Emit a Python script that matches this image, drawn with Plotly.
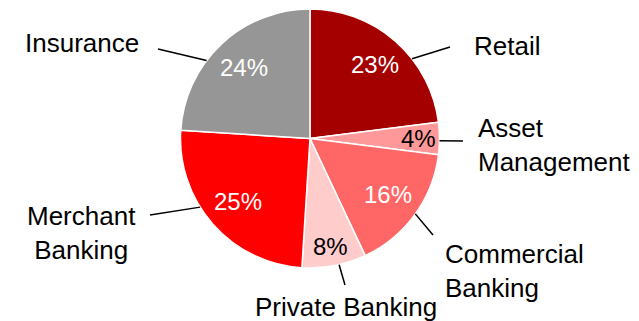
import math
import plotly.graph_objects as go

# Business mix by segment (% of total)
segments = ["Retail", "Asset Management", "Commercial Banking",
            "Private Banking", "Merchant Banking", "Insurance"]
shares = [23, 4, 16, 8, 25, 24]

colors = ["#A50000", "#FF9999", "#FF6666", "#FFCCCC", "#FF0000", "#969696"]
pct_colors = ["white", "black", "white", "black", "white", "white"]
pct_radius = [0.76, 0.84, 0.74, 0.85, 0.74, 0.75]

# Display label text for each segment
label_text = ["Retail", "Asset<br>Management", "Commercial<br>Banking",
              "Private Banking", "Merchant<br>Banking", "Insurance"]

W, H = 639, 321
CX, CY, R = 310.0, 138.5, 129.5  # pie centre / radius in pixels

FONT = "Liberation Sans, Arial, sans-serif"


def px(x):
    return x / W


def py(y):
    return 1 - y / H


def on_circle(angle_deg, frac=1.0):
    a = math.radians(angle_deg)
    return CX + frac * R * math.sin(a), CY - frac * R * math.cos(a)


fig = go.Figure(go.Pie(
    labels=segments,
    values=shares,
    sort=False,
    direction="clockwise",
    rotation=0,
    marker=dict(colors=colors, line=dict(color="white", width=1.5)),
    textinfo="none",
    hoverinfo="label+percent",
    showlegend=False,
    domain=dict(x=[px(CX - R), px(CX + R)], y=[py(CY + R), py(CY - R)]),
))

total = sum(shares)
annotations = []
shapes = []

# Percentages placed along each slice's mid-angle
cum = 0.0
mids = []
for v in shares:
    start = cum / total * 360
    cum += v
    end = cum / total * 360
    mids.append((start + end) / 2)

for v, mid, fr, col in zip(shares, mids, pct_radius, pct_colors):
    x, y = on_circle(mid, fr)
    annotations.append(dict(
        x=px(x), y=py(y), xref="paper", yref="paper",
        text=f"{v}%", showarrow=False,
        font=dict(family=FONT, size=24, color=col),
        xanchor="center", yanchor="middle",
    ))

# Callout labels: (anchor x, anchor y, xanchor, align)
label_pos = [
    (472, 46, "left", "left"),
    (476, 144.5, "left", "left"),
    (443, 271, "left", "left"),
    (346, 307, "center", "center"),
    (81, 232.5, "center", "center"),
    (81.5, 43, "center", "center"),
]
for txt, (x, y, xa, al) in zip(label_text, label_pos):
    annotations.append(dict(
        x=px(x), y=py(y), xref="paper", yref="paper",
        text=txt, showarrow=False, align=al,
        font=dict(family=FONT, size=26, color="black"),
        xanchor=xa, yanchor="middle",
    ))

# Leader lines: angle on the pie edge -> outer end point
leaders = [
    (52, (450, 47)),
    (91, (463, 141)),
    (125.6, (433, 235)),
    (167, (345, 285)),
    (238, (150, 215)),
    (307, (158, 49)),
]
for ang, (ex, ey) in leaders:
    sx, sy = on_circle(ang)
    shapes.append(dict(
        type="line", xref="paper", yref="paper",
        x0=px(sx), y0=py(sy), x1=px(ex), y1=py(ey),
        line=dict(color="black", width=1.5),
    ))

fig.update_layout(
    width=W, height=H,
    margin=dict(l=0, r=0, t=0, b=0),
    paper_bgcolor="white",
    plot_bgcolor="white",
    annotations=annotations,
    shapes=shapes,
)

fig.write_html("out.html")
